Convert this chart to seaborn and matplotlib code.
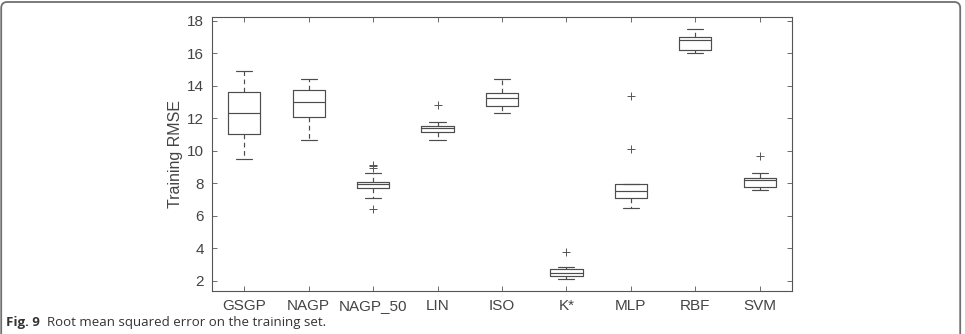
import numpy as np
import pandas as pd
import matplotlib.pyplot as plt
import seaborn as sns
from matplotlib.patches import FancyBboxPatch

# Nilai: whisker bawah, Q1, median, Q3, whisker atas, outlier
models = ['GSGP', 'NAGP', 'NAGP_50', 'LIN', 'ISO', 'K*', 'MLP', 'RBF', 'SVM']
whisker_low = [9.51, 10.66, 7.08, 10.64, 12.32, 2.10, 6.45, 16.00, 7.58]
q1 = [11.03, 12.09, 7.68, 11.13, 12.73, 2.27, 7.07, 16.22, 7.76]
median = [12.30, 13.02, 7.93, 11.42, 13.26, 2.49, 7.54, 16.81, 8.20]
q3 = [13.63, 13.77, 8.09, 11.54, 13.55, 2.74, 7.95, 17.02, 8.34]
whisker_high = [14.90, 14.39, 8.63, 11.74, 14.41, 2.86, 7.95, 17.47, 8.63]
outliers = [[], [], [6.39, 8.95, 9.04, 9.12], [12.79], [], [3.78],
            [10.12, 13.38], [], [9.67]]

# Bangun sampel yang mereproduksi statistik box di atas
rows = []
for i, m in enumerate(models):
    vals = ([whisker_low[i]] + [q1[i]] * 10 + [median[i]] * 10
            + [q3[i]] * 10 + [whisker_high[i]] + outliers[i])
    rows += [(m, v) for v in vals]
df = pd.DataFrame(rows, columns=['model', 'rmse'])

sns.set_style('white')
plt.rcParams['font.family'] = ['Liberation Sans', 'DejaVu Sans']

line_col = '#4d4d4d'
fig = plt.figure(figsize=(9.65, 3.34), dpi=100)
ax = fig.add_axes([0.2197, 0.1287, 0.601, 0.8203])

sns.boxplot(data=df, x='model', y='rmse', order=models, ax=ax, width=0.5,
            fill=False, color=line_col, linewidth=0.85, whis=1.5,
            whiskerprops=dict(linestyle=(0, (4, 3))),
            flierprops=dict(marker='+', markersize=6, markeredgecolor='#555555',
                            markeredgewidth=0.7))

ax.set_xlim(-0.5, 8.5)
ax.set_ylim(1.37, 18.23)
ax.set_yticks(range(2, 19, 2))
ax.set_xlabel('')
ax.set_ylabel('Training RMSE', fontsize=11.5, color='#444444', labelpad=3)
ax.tick_params(direction='in', length=3.5, width=0.6, colors='#555555',
               labelcolor='#444444', labelsize=11, pad=6,
               top=True, right=True, bottom=True, left=True)
for s in ax.spines.values():
    s.set_color('#555555')
    s.set_linewidth(0.8)

# Bingkai luar dengan sudut membulat
frame = FancyBboxPatch((0.012, -0.3), 9.59, 3.62,
                       boxstyle='round,pad=0,rounding_size=0.06',
                       transform=fig.dpi_scale_trans, fill=False,
                       edgecolor='#707070', linewidth=1.3, clip_on=False)
fig.add_artist(frame)

# Keterangan gambar
t1 = fig.text(0.006, 0.025, 'Fig. 9', family=['Open Sans', 'DejaVu Sans'],
              weight='bold', fontsize=9.5, color='#333333', va='baseline')
ax.annotate('Root mean squared error on the training set.', xy=(1, 0),
            xycoords=t1, xytext=(5, 0), textcoords='offset points',
            family=['Open Sans', 'DejaVu Sans'], fontsize=9.5,
            color='#333333', va='bottom', annotation_clip=False)

fig.savefig('out.png', dpi=100)
